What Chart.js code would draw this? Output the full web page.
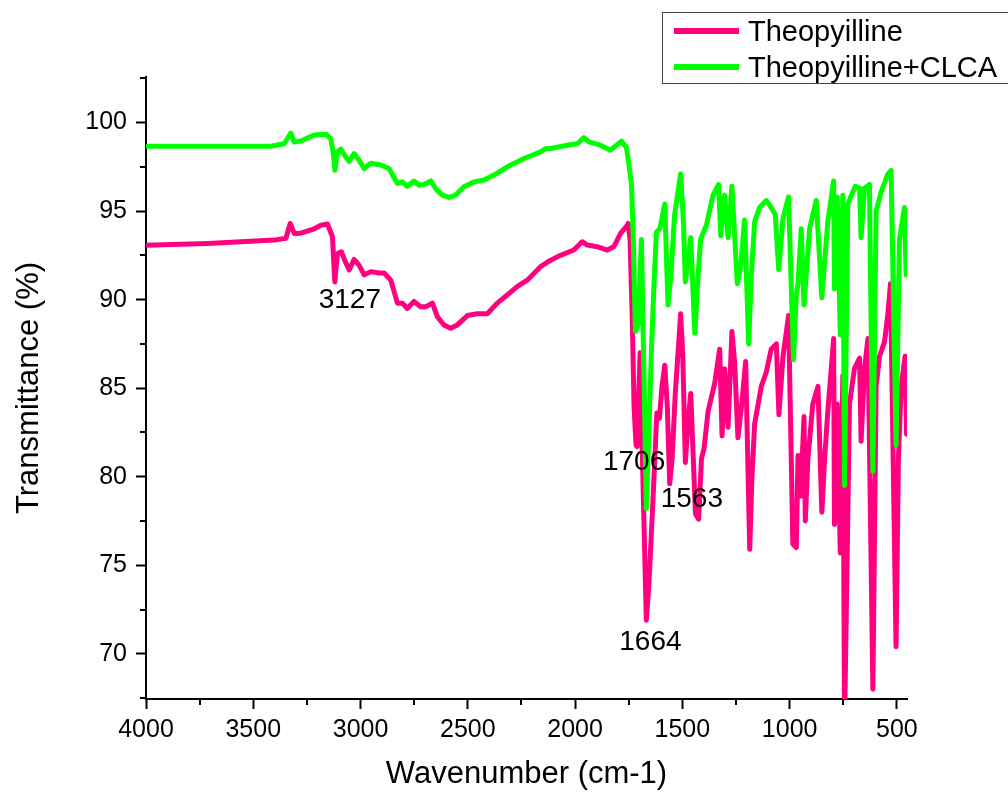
<!DOCTYPE html>
<html lang="en">
<head>
<meta charset="utf-8">
<title>FTIR Theopyilline</title>
<script src="https://cdn.jsdelivr.net/npm/chart.js@4.4.1/dist/chart.umd.min.js"></script>
<style>
  html, body { margin: 0; padding: 0; background: #fff; overflow: hidden; }
  #wrap { position: relative; width: 1008px; height: 793px; overflow: hidden; }
  #irChart { display: block; }
  .legend-box {
    position: absolute; left: 662px; top: 12px; width: 360px; height: 72px;
    border: 1.5px solid #444; box-sizing: border-box; background: #fff;
    font-family: "Liberation Sans", Arial, sans-serif; font-size: 29px; color: #000;
  }
  .legend-row { position: absolute; left: 0; height: 36px; line-height: 36px; display: flex; align-items: center; }
  .legend-line { width: 65px; height: 6px; margin-left: 11px; margin-right: 9px; }
</style>
</head>
<body>
<div id="wrap">
  <canvas id="irChart" width="1008" height="793"></canvas>
  <div class="legend-box" id="legendBox"></div>
</div>
<script>
// ==================== データ ====================

// Theopyilline (純品) の波数と透過率
const wnTheo = [
  4000, 3713, 3402, 3348, 3328, 3309, 3278, 3216, 3185, 3154, 3131, 3120, 3108, 3089, 3073, 3053,
  3030, 3007, 2983, 2952, 2914, 2890, 2859, 2828, 2805, 2782, 2751, 2720, 2696, 2665, 2642, 2611,
  2580, 2549, 2502, 2456, 2409, 2363, 2316, 2270, 2223, 2161, 2114, 2068, 2006, 1967, 1943, 1897,
  1850, 1819, 1788, 1757, 1753, 1744, 1734, 1725, 1716, 1711, 1697, 1682, 1668, 1657, 1644, 1632,
  1619, 1607, 1595, 1582, 1570, 1559, 1548, 1533, 1508, 1498, 1486, 1474, 1461, 1449, 1439, 1424,
  1411, 1399, 1380, 1349, 1326, 1315, 1303, 1287, 1269, 1256, 1241, 1225, 1205, 1186, 1176, 1163,
  1132, 1109, 1086, 1062, 1050, 1031, 1005, 985, 969, 961, 949, 933, 927, 915, 892, 868,
  850, 837, 822, 806, 795, 791, 778, 764, 752, 744, 721, 698, 674, 667, 651, 635,
  612, 597, 581, 558, 542, 530, 504, 493, 480, 462, 455
];
const tTheo = [
  93.07, 93.17, 93.36, 93.46, 94.3, 93.74, 93.75, 94.0, 94.2, 94.27, 93.55, 91.0, 92.6, 92.7, 92.2, 91.67,
  92.27, 91.95, 91.4, 91.58, 91.5, 91.5, 91.1, 89.8, 89.8, 89.5, 89.9, 89.6, 89.6, 89.8, 89.04, 88.57,
  88.38, 88.57, 89.1, 89.2, 89.2, 89.8, 90.26, 90.73, 91.1, 91.86, 92.23, 92.5, 92.8, 93.27, 93.08, 92.99,
  92.8, 92.99, 93.74, 94.2, 94.3, 93.4, 89.2, 83.9, 81.8, 81.7, 87.0, 78.9, 71.9, 73.7, 76.9, 80.0,
  83.6, 83.3, 85.1, 86.3, 83.9, 79.6, 81.0, 84.7, 89.2, 86.8, 80.8, 83.0, 84.7, 81.0, 77.9, 77.6,
  81.0, 81.6, 83.7, 85.3, 87.2, 82.3, 86.1, 82.8, 88.2, 86.4, 82.2, 83.9, 86.5, 75.9, 79.9, 83.0,
  85.1, 85.9, 87.2, 87.5, 83.5, 86.8, 89.1, 76.2, 76.0, 81.2, 78.9, 83.4, 77.5, 81.0, 84.1, 85.1,
  78.0, 81.0, 83.7, 86.1, 87.8, 77.3, 84.1, 75.7, 85.7, 66.0, 84.1, 86.1, 86.7, 82.0, 86.1, 87.8,
  68.0, 85.1, 86.8, 87.6, 89.2, 90.9, 70.4, 81.0, 85.1, 86.8, 82.4
];

// Theopyilline+CLCA の波数と透過率
const wnClca = [
  4000, 3418, 3356, 3325, 3309, 3278, 3216, 3162, 3139, 3126, 3120, 3108, 3092, 3069, 3053, 3030,
  3007, 2983, 2952, 2906, 2867, 2828, 2805, 2782, 2751, 2727, 2704, 2673, 2650, 2619, 2588, 2557,
  2518, 2471, 2425, 2378, 2316, 2238, 2161, 2137, 2114, 2037, 1990, 1959, 1936, 1882, 1835, 1784,
  1761, 1750, 1737, 1728, 1719, 1706, 1691, 1678, 1668, 1655, 1644, 1632, 1621, 1605, 1582, 1567,
  1554, 1536, 1508, 1495, 1486, 1461, 1442, 1427, 1415, 1388, 1357, 1331, 1321, 1303, 1287, 1269,
  1244, 1228, 1210, 1191, 1179, 1163, 1140, 1109, 1086, 1067, 1051, 1031, 1005, 982, 969, 961,
  946, 933, 907, 876, 850, 822, 795, 791, 778, 764, 752, 744, 729, 694, 674, 667,
  651, 628, 612, 597, 573, 542, 527, 504, 488, 465, 457
];
const tClca = [
  98.66, 98.66, 98.8, 99.4, 98.9, 98.96, 99.3, 99.34, 99.1, 98.2, 97.3, 98.35, 98.5, 98.06, 97.8, 98.25,
  97.87, 97.4, 97.7, 97.6, 97.4, 96.56, 96.65, 96.4, 96.7, 96.46, 96.5, 96.7, 96.28, 95.9, 95.77, 95.9,
  96.37, 96.65, 96.75, 97.03, 97.5, 97.97, 98.34, 98.53, 98.53, 98.72, 98.8, 99.15, 98.91, 98.72, 98.44, 98.95,
  98.6, 97.7, 96.5, 93.0, 88.2, 88.6, 93.4, 85.1, 78.2, 83.0, 87.2, 90.9, 93.8, 94.0, 95.4, 89.7,
  91.3, 94.8, 97.1, 94.4, 91.0, 93.5, 88.1, 91.3, 93.4, 94.2, 95.9, 96.5, 93.6, 95.9, 93.5, 96.4,
  90.9, 91.9, 94.5, 87.5, 91.3, 94.4, 95.2, 95.6, 95.2, 94.8, 91.7, 94.6, 95.8, 86.6, 90.3, 90.9,
  94.0, 89.7, 94.0, 95.6, 90.1, 94.4, 96.7, 90.6, 95.8, 88.0, 95.9, 79.5, 95.4, 96.4, 96.3, 93.5,
  96.3, 96.5, 80.3, 95.0, 96.1, 97.1, 97.3, 81.8, 93.4, 95.2, 91.4
];

// 軸の目盛
const xTickValues = [4000, 3500, 3000, 2500, 2000, 1500, 1000, 500];
const xMinorTicks = [3750, 3250, 2750, 2250, 1750, 1250, 750];
const yTickValues = [70, 75, 80, 85, 90, 95, 100];
const yMinorTicks = [67.5, 72.5, 77.5, 82.5, 87.5, 92.5, 97.5, 102.5];

// ピークのラベル
const peakLabels = ['3127', '1706', '1664', '1563'];
const peakLabelWn = [3050, 1725, 1649, 1456];
const peakLabelT = [89.98, 80.8, 70.66, 78.7];

// 系列名
const seriesNames = ['Theopyilline', 'Theopyilline+CLCA'];

// ==================== 設定 ====================

const lineColors = {
  theo: '#ff0080',
  clca: '#00ff00'
};

const fontFamily = '"Liberation Sans", Arial, sans-serif';
Chart.defaults.font.family = fontFamily;
Chart.defaults.color = '#000';

// 補助目盛とピークラベルを描くプラグイン
const extraDrawPlugin = {
  id: 'extraDraw',
  afterDraw(chart) {
    const { ctx, chartArea } = chart;
    const xScale = chart.scales.x;
    const yScale = chart.scales.y;
    ctx.save();
    ctx.strokeStyle = '#000';
    ctx.lineWidth = 2;
    xMinorTicks.forEach(v => {
      const px = Math.round(xScale.getPixelForValue(v));
      ctx.beginPath();
      ctx.moveTo(px, chartArea.bottom);
      ctx.lineTo(px, chartArea.bottom + 6);
      ctx.stroke();
    });
    yMinorTicks.forEach(v => {
      const py = Math.round(yScale.getPixelForValue(v));
      ctx.beginPath();
      ctx.moveTo(chartArea.left, py);
      ctx.lineTo(chartArea.left - 6, py);
      ctx.stroke();
    });

    ctx.fillStyle = '#000';
    ctx.font = '28px ' + fontFamily;
    ctx.textAlign = 'center';
    ctx.textBaseline = 'middle';
    peakLabels.forEach((label, i) => {
      ctx.fillText(label, xScale.getPixelForValue(peakLabelWn[i]), yScale.getPixelForValue(peakLabelT[i]));
    });
    ctx.restore();
  }
};

function toPoints(xs, ys) {
  return xs.map((x, i) => ({ x: x, y: ys[i] }));
}

// ==================== グラフ作成 ====================

function createIrChart() {
  const canvas = document.getElementById('irChart');
  const ctx = canvas.getContext('2d');

  return new Chart(ctx, {
    type: 'line',
    data: {
      datasets: [
        {
          label: seriesNames[0],
          data: toPoints(wnTheo, tTheo),
          borderColor: lineColors.theo,
          borderWidth: 5,
          pointRadius: 0,
          tension: 0,
          borderJoinStyle: 'round',
          borderCapStyle: 'round',
          order: 1
        },
        {
          label: seriesNames[1],
          data: toPoints(wnClca, tClca),
          borderColor: lineColors.clca,
          borderWidth: 5,
          pointRadius: 0,
          tension: 0,
          borderJoinStyle: 'round',
          borderCapStyle: 'round',
          order: 0
        }
      ]
    },
    options: {
      responsive: false,
      animation: false,
      devicePixelRatio: 1,
      layout: {
        padding: { top: 77, right: 101, bottom: 0, left: 0 }
      },
      plugins: {
        legend: { display: false },
        tooltip: { enabled: false }
      },
      scales: {
        x: {
          type: 'linear',
          reverse: true,
          min: 453,
          max: 4000,
          afterBuildTicks(scale) {
            scale.ticks = xTickValues.map(v => ({ value: v }));
          },
          afterFit(scale) {
            scale.height = 94;
          },
          ticks: {
            font: { size: 25 },
            color: '#000',
            padding: 6,
            maxRotation: 0,
            autoSkip: false,
            callback: v => String(v)
          },
          grid: {
            drawOnChartArea: false,
            tickLength: 10,
            tickWidth: 2,
            tickColor: '#000'
          },
          border: { display: true, color: '#000', width: 2 },
          title: {
            display: true,
            text: 'Wavenumber (cm-1)',
            font: { size: 31 },
            color: '#000',
            padding: { top: 0, bottom: 0 }
          }
        },
        y: {
          type: 'linear',
          min: 67.45,
          max: 102.57,
          afterBuildTicks(scale) {
            scale.ticks = yTickValues.map(v => ({ value: v }));
          },
          afterFit(scale) {
            scale.width = 146;
          },
          ticks: {
            font: { size: 25 },
            color: '#000',
            padding: 9,
            callback: v => String(v)
          },
          grid: {
            drawOnChartArea: false,
            tickLength: 10,
            tickWidth: 2,
            tickColor: '#000'
          },
          border: { display: true, color: '#000', width: 2 },
          title: {
            display: true,
            text: 'Transmittance (%)',
            font: { size: 31 },
            color: '#000',
            padding: { top: 11, bottom: 0 }
          }
        }
      }
    },
    plugins: [extraDrawPlugin]
  });
}

// 凡例 (HTML)
function buildLegend() {
  const box = document.getElementById('legendBox');
  const colors = [lineColors.theo, lineColors.clca];
  seriesNames.forEach((name, i) => {
    const row = document.createElement('div');
    row.className = 'legend-row';
    row.style.top = (i * 36) + 'px';
    const line = document.createElement('span');
    line.className = 'legend-line';
    line.style.background = colors[i];
    const text = document.createElement('span');
    text.textContent = name;
    row.appendChild(line);
    row.appendChild(text);
    box.appendChild(row);
  });
}

buildLegend();
createIrChart();
</script>
</body>
</html>
